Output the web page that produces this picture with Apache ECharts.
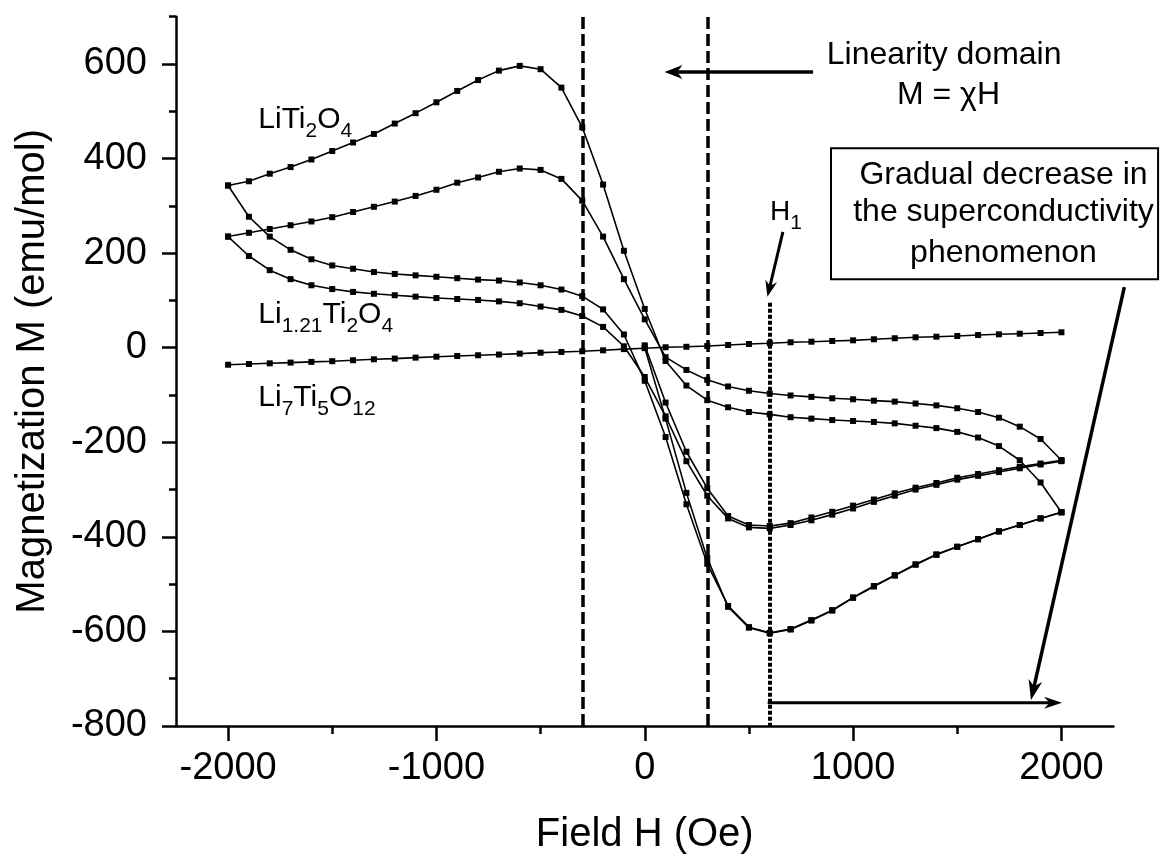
<!DOCTYPE html>
<html>
<head>
<meta charset="utf-8">
<title>Magnetization vs field</title>
<script src="https://cdn.jsdelivr.net/npm/echarts@6/dist/echarts.min.js"></script>
<style>
  html, body { margin: 0; padding: 0; background: #fff; }
  #chart { width: 1166px; height: 855px; }
</style>
</head>
<body>
<div id="chart"></div>
<script>
// applied field (Oe), one point every 100 Oe
var fieldFull = [-2000, -1900, -1800, -1700, -1600, -1500, -1400, -1300, -1200, -1100, -1000,
    -900, -800, -700, -600, -500, -400, -300, -200, -100, 0, 100, 200, 300, 400, 500, 600,
    700, 800, 900, 1000, 1100, 1200, 1300, 1400, 1500, 1600, 1700, 1800, 1900, 2000];
var fieldVirgin = [0, 100, 200, 300, 400, 500, 600, 700, 800, 900, 1000,
    1100, 1200, 1300, 1400, 1500, 1600, 1700, 1800, 1900, 2000];

// LiTi2O4 (emu/mol)
var liTi2O4Peak = [343, 352, 368, 382, 398, 416, 434, 452, 474, 496, 519, 543, 566, 586, 596, 589,
    550, 466, 345, 205, 82, -28, -80, -111, -126, -136, -141, -147, -150, -153, -155, -157,
    -160, -165, -170, -178, -190, -208, -238, -285, -348];
var liTi2O4Flat = [343, 277, 235, 207, 187, 174, 167, 160, 156, 153, 150, 147, 144, 142, 138, 132,
    123, 109, 81, 28, -70, -189, -331, -457, -546, -591, -603, -595, -576, -555, -528, -504,
    -481, -458, -437, -421, -405, -388, -375, -361, -348];
var liTi2O4Virgin = [0, -150, -307, -445, -548, -592, -604, -596, -577, -556, -529, -505, -482,
    -459, -438, -421, -405, -389, -375, -361, -348];

// Li1.21Ti2O4
var li121Peak = [235, 243, 251, 259, 267, 276, 287, 298, 309, 321, 334, 349, 360, 372, 379, 376,
    357, 311, 235, 145, 60, -20, -47, -68, -82, -91, -97, -101, -104, -107, -109, -112,
    -114, -118, -122, -128, -136, -148, -167, -193, -238];
var li121Flat = [235, 194, 164, 145, 132, 124, 118, 114, 111, 108, 105, 103, 101, 98, 94, 87,
    80, 67, 44, 3, -62, -145, -240, -313, -361, -380, -382, -375, -365, -353, -340, -326,
    -313, -300, -290, -279, -271, -263, -255, -247, -240];
var li121Virgin = [5, -116, -220, -297, -356, -375, -377, -371, -359, -347, -334, -321, -308,
    -296, -286, -275, -267, -259, -252, -245, -238];

// Li7Ti5O12
var li7Ti5O12 = [-36, -34.5, -33, -31.5, -30, -28.5, -26.5, -24.5, -23, -21, -19, -17.5, -16,
    -14.5, -12.5, -10.5, -9, -7.5, -5.5, -3, -1, 1, 2, 3.6, 5.7, 7.8, 9.5, 11.5, 12.7, 14.2,
    15.6, 17.8, 20, 22, 23.3, 24.7, 26.8, 28.3, 29.6, 31.1, 32.6];

// axis ticks
var xMajor = [-2000, -1000, 0, 1000, 2000];
var xMinor = [-1500, -500, 500, 1500];
var yMajor = [-800, -600, -400, -200, 0, 200, 400, 600];
var yMinor = [-700, -500, -300, -100, 100, 300, 500, 700];

var FONT = "'Liberation Sans', Arial, sans-serif";

var chart = echarts.init(document.getElementById('chart'), null, {renderer: 'canvas'});

function curve(name, xs, ys) {
    return {
        name: name,
        type: 'line',
        data: xs.map(function (x, i) { return [x, ys[i]]; }),
        symbol: 'rect',
        symbolSize: 6,
        showSymbol: true,
        itemStyle: {color: '#000'},
        lineStyle: {color: '#000', width: 1.6},
        emphasis: {disabled: true},
        animation: false,
        z: 3
    };
}

function plainLabel(v) {
    return String(v);
}

// dashed limits of the linear domain
var li7Series = curve('Li7Ti5O12', fieldFull, li7Ti5O12);
li7Series.markLine = {
    silent: true,
    symbol: ['none', 'none'],
    label: {show: false},
    emphasis: {disabled: true},
    animation: false,
    lineStyle: {type: [12, 5], width: 3.5, color: '#000'},
    data: [{xAxis: -300}, {xAxis: 300}]
};

// dotted H1 marker
var virginSeries = curve('LiTi2O4 virgin', fieldVirgin, liTi2O4Virgin);
virginSeries.markLine = {
    silent: true,
    symbol: ['none', 'none'],
    label: {show: false},
    emphasis: {disabled: true},
    animation: false,
    lineStyle: {type: [4, 2], width: 4, color: '#000'},
    data: [[{coord: [600, 95]}, {coord: [600, -800]}]]
};

var tickStyle = {color: '#000', width: 2.5};

var option = {
    backgroundColor: '#fff',
    animation: false,
    grid: {left: 176, right: 52.5, top: 16.7, bottom: 129, containLabel: false, outerBoundsMode: 'none'},
    xAxis: [{
        type: 'value', min: -2250, max: 2250, position: 'bottom',
        axisLine: {show: true, onZero: false, lineStyle: {color: '#000', width: 2.5}},
        axisTick: {show: true, inside: false, length: 15, customValues: xMajor, lineStyle: tickStyle},
        axisLabel: {show: true, customValues: xMajor, formatter: plainLabel, margin: 24,
            color: '#000', fontSize: 38, fontFamily: FONT},
        splitLine: {show: false},
        name: 'Field H (Oe)', nameLocation: 'middle', nameGap: 89,
        nameTextStyle: {color: '#000', fontSize: 40, fontFamily: FONT}
    }, {
        type: 'value', min: -2250, max: 2250, position: 'bottom',
        axisLine: {show: false, onZero: false},
        axisTick: {show: true, inside: false, length: 8, customValues: xMinor, lineStyle: tickStyle},
        axisLabel: {show: false},
        splitLine: {show: false}
    }],
    yAxis: [{
        type: 'value', min: -800, max: 700, position: 'left',
        axisLine: {show: true, onZero: false, lineStyle: {color: '#000', width: 2.5}},
        axisTick: {show: true, inside: false, length: 14, customValues: yMajor, lineStyle: tickStyle},
        axisLabel: {show: true, customValues: yMajor, formatter: plainLabel, margin: 29,
            color: '#000', fontSize: 38, fontFamily: FONT},
        splitLine: {show: false},
        name: 'Magnetization M (emu/mol)', nameLocation: 'middle', nameGap: 123,
        nameTextStyle: {color: '#000', fontSize: 40, fontFamily: FONT}
    }, {
        type: 'value', min: -800, max: 700, position: 'left',
        axisLine: {show: false, onZero: false},
        axisTick: {show: true, inside: false, length: 7, customValues: yMinor, lineStyle: tickStyle},
        axisLabel: {show: false},
        splitLine: {show: false}
    }],
    series: [
        curve('LiTi2O4 peak', fieldFull, liTi2O4Peak),
        curve('LiTi2O4 flat', fieldFull, liTi2O4Flat),
        virginSeries,
        curve('Li1.21Ti2O4 peak', fieldFull, li121Peak),
        curve('Li1.21Ti2O4 flat', fieldFull, li121Flat),
        curve('Li1.21Ti2O4 virgin', fieldVirgin, li121Virgin),
        li7Series
    ]
};
chart.setOption(option);

// annotations, placed in data coordinates
function px(p) {
    return chart.convertToPixel({gridIndex: 0}, p);
}

function arrow(from, to, width, headLen, headHalf) {
    var a = px(from), b = px(to);
    var dx = b[0] - a[0], dy = b[1] - a[1];
    var len = Math.sqrt(dx * dx + dy * dy);
    var ux = dx / len, uy = dy / len;
    var nx = -uy, ny = ux;
    var bx = b[0] - ux * headLen, by = b[1] - uy * headLen;
    var mx = b[0] - ux * headLen * 0.7, my = b[1] - uy * headLen * 0.7;
    return [{
        type: 'line', silent: true, z: 10,
        shape: {x1: a[0], y1: a[1], x2: mx, y2: my},
        style: {stroke: '#000', lineWidth: width}
    }, {
        type: 'polygon', silent: true, z: 10,
        shape: {points: [[b[0], b[1]], [bx + nx * headHalf, by + ny * headHalf], [mx, my],
            [bx - nx * headHalf, by - ny * headHalf]]},
        style: {fill: '#000'}
    }];
}

function text(p, str, size, align) {
    var q = px(p);
    return {
        type: 'text', silent: true, z: 11, x: q[0], y: q[1],
        style: {text: str, fontSize: size, fontFamily: FONT, fill: '#000',
            align: align || 'center', verticalAlign: 'middle'}
    };
}

// formula labels with subscripts
function formula(p, str, size, subSize) {
    var q = px(p);
    return {
        type: 'text', silent: true, z: 11, x: q[0], y: q[1] - size / 2 + 8,
        style: {
            text: str, fill: '#000', align: 'left', verticalAlign: 'top',
            rich: {
                m: {fontSize: size, lineHeight: size, fontFamily: FONT, fill: '#000',
                    verticalAlign: 'bottom', padding: [0, 0, 7, 0]},
                s: {fontSize: subSize, lineHeight: subSize, fontFamily: FONT, fill: '#000',
                    verticalAlign: 'bottom'}
            }
        }
    };
}

var boxA = px([894, 422]), boxB = px([2464, 145]);

var elements = [];
elements.push(text([1437, 618], 'Linearity domain', 32));
elements.push(text([1458, 534], 'M = \u03c7H', 32));
elements = elements.concat(arrow([808, 583], [95, 583], 3.5, 18, 7));

elements.push({
    type: 'rect', silent: true, z: 9,
    shape: {x: boxA[0], y: boxA[1], width: boxB[0] - boxA[0], height: boxB[1] - boxA[1]},
    style: {fill: '#fff', stroke: '#000', lineWidth: 2}
});
elements.push(text([1722, 364], 'Gradual decrease in', 32));
elements.push(text([1722, 286], 'the superconductivity', 32));
elements.push(text([1722, 199], 'phenomenon', 32));

elements.push(formula([601, 288], '{m|H}{s|1}', 28, 21));
elements = elements.concat(arrow([663, 245], [589, 108], 3, 16, 6));

elements = elements.concat(arrow([2302, 128], [1854, -745], 3.5, 20, 7));
elements = elements.concat(arrow([590, -751], [2003, -751], 3, 18, 6));

elements.push(formula([-1855, 484], '{m|LiTi}{s|2}{m|O}{s|4}', 30, 21));
elements.push(formula([-1855, 72], '{m|Li}{s|1.21}{m|Ti}{s|2}{m|O}{s|4}', 30, 21));
elements.push(formula([-1855, -104], '{m|Li}{s|7}{m|Ti}{s|5}{m|O}{s|12}', 30, 21));

chart.setOption({graphic: {elements: elements}});
</script>
</body>
</html>
